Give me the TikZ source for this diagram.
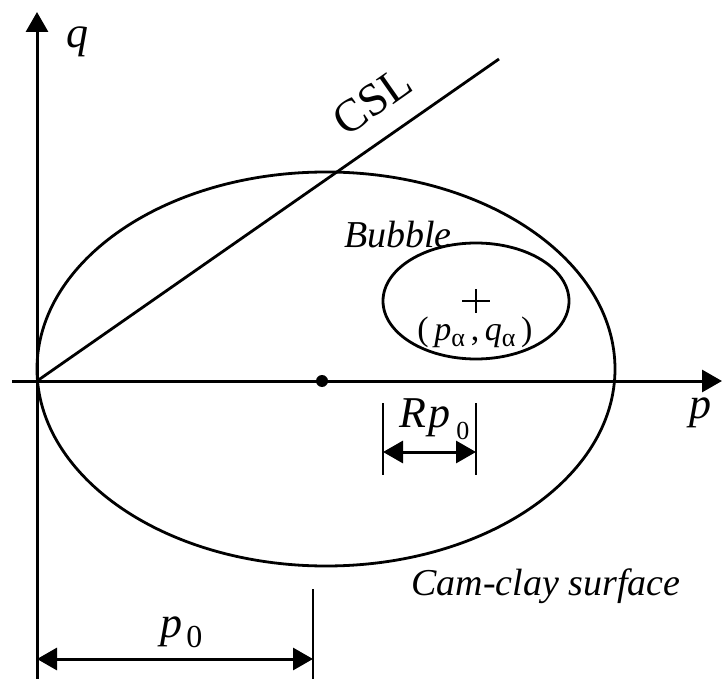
\documentclass[tikz,border=0pt]{standalone}
\usepackage{fontspec}
\setmainfont{Liberation Serif}
\usetikzlibrary{arrows.meta, positioning}

\newcommand{\lowsub}[3]{\raisebox{-#2}{\fontsize{#1}{#1}\selectfont #3}}

\begin{document}
\begin{tikzpicture}[
    x=0.5pt, y=-0.5pt,
    >={Triangle[length=10pt, width=11pt]},
    axis/.style={->, line width=1.5pt},
    curve/.style={line width=1.4pt},
    tick/.style={line width=1.3pt},
    dim/.style={<->, line width=1.5pt},
    sym/.style={font=\fontsize{22}{24}\selectfont\itshape, inner sep=0pt},
    note/.style={font=\fontsize{19}{22}\selectfont\itshape, inner sep=0pt},
]
\useasboundingbox (0,0) rectangle (723,679);

% ================================================================
%  Axes
% ================================================================

\coordinate (O)    at (37,381);
\coordinate (qbot) at (37,679);
\coordinate (qtop) at (37,12);
\coordinate (pleft)  at (12,381);
\coordinate (pright) at (722,381);

\draw[axis] (qbot) -- (qtop);
\draw[axis] (pleft) -- (pright);

\node[sym, anchor=base] (qlbl) at (77,48) {q};
\node[sym, anchor=base] (plbl) at (700,418) {p};

% ================================================================
%  Cam-clay surface, CSL and bubble
% ================================================================

\coordinate (cc) at (326,369);
\draw[curve] (cc) ellipse [x radius=289, y radius=197];
\fill (322,381) circle (6);

\coordinate (cslend) at (499,59);
\draw[curve] (O) -- (cslend);
\node[font=\fontsize{23}{25}\selectfont, rotate=35, inner sep=0pt]
    (csl) at (372,101) {CSL};

\coordinate (bc) at (476,301);
\draw[curve] (bc) ellipse [x radius=93, y radius=58];
\draw[tick] ([xshift=-7pt]bc) -- ([xshift=7pt]bc);
\draw[tick] ([yshift=-6pt]bc) -- ([yshift=6pt]bc);

\node[note, anchor=base] (bubble) at (398,248) {Bubble};
\node[font=\fontsize{17}{19}\selectfont, inner sep=0pt] (alpha) at (475,332)
    {(\,\textit{p}\lowsub{13}{3pt}{α}\,,\,\textit{q}\lowsub{13}{3pt}{α}\,)};

\node[note, anchor=base] (camclay) at (546,595) {Cam-clay surface};

% ================================================================
%  Dimensions
% ================================================================

% bubble size
\coordinate (ra) at (383,452);
\coordinate (rb) at (476,452);
\draw[tick] (383,403) -- (383,475);
\draw[tick] (476,403) -- (476,475);
\draw[dim] (ra) -- (rb);
\node[sym, anchor=base west] (rplbl) at (399,427)
    {R\kern1pt p\kern3pt\lowsub{13}{6pt}{\upshape 0}};

% p0
\coordinate (pa) at (37,659);
\coordinate (pb) at (313,659);
\draw[tick] (313,589) -- (313,679);
\draw[dim] (pa) -- (pb);
\node[sym, anchor=base west] (p0lbl) at (160,637)
    {p\kern2pt\lowsub{16}{5pt}{\upshape 0}};

\end{tikzpicture}
\end{document}
